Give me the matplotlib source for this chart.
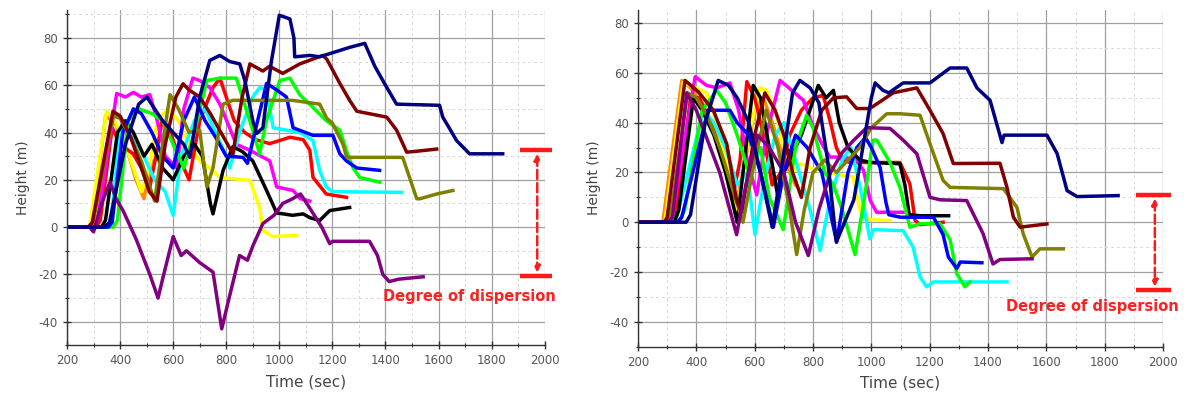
import numpy as np
import matplotlib.pyplot as plt
from matplotlib.ticker import MultipleLocator

plt.rcParams['axes.unicode_minus'] = False

# ---- left panel data (time in s, height in m) ----
lx_orange = [200, 280, 295, 345, 380, 420, 460, 490, 520]
ly_orange = [0, 0, 2, 47, 44, 35, 20, 12, 28]

lx_yellow = [200, 285, 349, 380, 420, 450, 480, 510, 540, 580, 620, 660, 700, 738, 776, 889, 926, 938, 976, 1066]
ly_yellow = [0, 0, 49, 45, 35, 25, 15, 25, 45, 50, 45, 35, 28, 25, 21, 19.8, 8.3, -1.5, -4, -3.5]

lx_red = [200, 310, 325, 370, 400, 449, 480, 512, 535, 558, 590, 620, 660, 700, 750, 776, 800, 830, 870, 910, 964, 1040, 1090, 1115, 1127, 1177, 1253]
ly_red = [0, 0, 3, 42, 35, 31, 25, 17, 30, 45, 40, 30, 20, 45, 59, 63, 55, 45, 40, 37, 35.3, 38, 37, 32.5, 21, 14, 12.6]

lx_magenta = [200, 300, 315, 387, 420, 450, 480, 512, 540, 570, 614, 640, 674, 700, 738, 776, 838, 889, 964, 990, 1052, 1080, 1115]
ly_magenta = [0, 0, 3, 56.5, 55, 57, 55, 56, 45, 30, 25, 50, 63, 62, 59, 52, 35, 32.5, 28, 17, 15.5, 12, 11]

lx_cyan = [200, 350, 365, 400, 420, 450, 490, 530, 570, 600, 630, 680, 720, 760, 800, 813, 850, 900, 926, 951, 977, 1077, 1127, 1152, 1177, 1200, 1461]
ly_cyan = [0, 0, 2, 41, 42, 38, 30, 20, 15, 5, 30, 45, 50, 40, 30, 25, 40, 55, 59, 58, 42, 40, 36.6, 24, 17, 15, 14.7]

lx_black = [200, 330, 345, 390, 420, 450, 490, 520, 560, 600, 640, 680, 710, 740, 750, 788, 825, 860, 900, 952, 990, 1050, 1090, 1115, 1152, 1190, 1265]
ly_black = [0, 0, 3, 40, 45, 40, 30, 35, 25, 20, 30, 35, 30, 10, 5.6, 24, 34, 32, 28, 15.5, 6, 5, 5.6, 4, 2.8, 7, 8.3]

lx_green = [200, 375, 390, 430, 470, 520, 560, 600, 640, 680, 727, 776, 838, 889, 926, 951, 1002, 1040, 1077, 1127, 1177, 1228, 1260, 1278, 1303, 1378]
ly_green = [0, 0, 3, 45, 50, 48, 45, 35, 25, 40, 62, 63, 63, 45, 31, 45, 62, 63, 56, 50.6, 45, 41, 30, 25, 21, 19]

lx_blue = [200, 355, 370, 410, 450, 480, 520, 560, 600, 640, 680, 720, 760, 800, 863, 880, 952, 990, 1027, 1052, 1127, 1202, 1228, 1253, 1292, 1378]
ly_blue = [0, 0, 2, 40, 50, 48, 40, 30, 25, 45, 55, 45, 38, 30, 29.5, 27, 60.8, 58, 55, 42, 38.8, 38.8, 31, 28, 25, 24]

lx_olive = [200, 285, 300, 373, 400, 440, 480, 530, 560, 588, 620, 660, 700, 727, 750, 788, 825, 915, 1050, 1152, 1179, 1200, 1240, 1254, 1465, 1518, 1530, 1593, 1654]
ly_olive = [0, 0, 3, 47, 46, 38, 28, 11, 35, 56, 50, 40, 41, 17, 25, 52, 53.6, 53.6, 53.6, 52, 46, 44, 35, 29.5, 29.5, 12, 12, 14, 15.5]

lx_maroon = [200, 280, 295, 373, 400, 440, 480, 510, 539, 570, 610, 637, 660, 700, 740, 780, 825, 860, 889, 938, 963, 1013, 1077, 1164, 1179, 1228, 1265, 1292, 1405, 1442, 1480, 1510, 1593]
ly_maroon = [0, 0, 2, 49, 47, 38, 25, 15, 11, 35, 55, 60.6, 58, 55, 48, 40, 31, 55, 69, 66, 68, 65, 69, 72.6, 71, 60.8, 53.6, 49, 46.5, 41, 31.7, 32, 33]

lx_purple = [200, 285, 300, 330, 362, 385, 411, 460, 512, 543, 560, 600, 630, 650, 700, 750, 783, 815, 850, 880, 900, 938, 980, 1013, 1050, 1080, 1115, 1160, 1190, 1200, 1340, 1370, 1390, 1414, 1450, 1542]
ly_purple = [0, 0, -2, 10, 19, 12, 7, -5, -20, -30, -22, -4, -12, -10, -15, -19, -43, -28, -12, -14, -8, 1.5, 5, 10, 12, 14, 8, 0, -7, -6, -6, -12, -20, -23, -22, -21]

lx_navy = [200, 340, 360, 420, 470, 501, 530, 560, 600, 640, 663, 700, 738, 776, 813, 851, 870, 900, 915, 938, 970, 1000, 1040, 1055, 1058, 1115, 1152, 1265, 1322, 1360, 1400, 1442, 1604, 1616, 1640, 1668, 1717, 1842]
ly_navy = [0, 0, 2, 35, 52, 55, 50, 45, 40, 35, 29.5, 55, 70.5, 72.6, 70, 69, 62, 45, 39.6, 42, 70, 89.6, 88, 80, 72, 72.6, 72, 76, 77.7, 68, 60, 52, 51.5, 46.5, 42, 36.6, 31, 31]

# ---- right panel data ----
rx_orange = [200, 285, 350, 380, 420, 470, 510, 538, 560, 600, 630, 660, 700, 740]
ry_orange = [0, 0, 57, 54, 48, 35, 20, 8, 20, 45, 50, 40, 25, 15]

rx_yellow = [200, 292, 355, 400, 435, 470, 510, 540, 580, 618, 641, 670, 700, 730, 756, 813, 938, 961, 996, 1064]
ry_yellow = [0, 0, 56, 54, 52, 40, 20, 5, 35, 54, 53, 45, 30, 20, 23.5, 20.8, 18.2, 4.7, 1, 0.7]

rx_red = [200, 315, 330, 380, 410, 450, 490, 525, 550, 573, 600, 630, 660, 690, 720, 760, 800, 835, 860, 880, 900, 927, 1098, 1132, 1150, 1167, 1246]
ry_red = [0, 0, 3, 50, 50, 40, 25, 10, 25, 56.5, 50, 35, 15, 20, 35, 45, 50, 51, 40, 30, 25, 24, 24, 15.4, 0.7, -1, 0]

rx_magenta = [200, 305, 318, 396, 435, 470, 515, 545, 575, 607, 640, 687, 733, 767, 801, 836, 858, 904, 950, 973, 996, 1018, 1110]
ry_magenta = [0, 0, 3, 58.5, 55, 54, 56, 45, 25, 11, 35, 57, 52.4, 49, 38.3, 30.3, 26.2, 26.2, 24.9, 20.8, 8.8, 4, 4]

rx_cyan = [200, 320, 335, 424, 460, 500, 540, 575, 601, 630, 670, 700, 740, 790, 824, 860, 900, 930, 960, 995, 1007, 1109, 1143, 1167, 1190, 1213, 1465]
ry_cyan = [0, 0, 3, 45, 40, 30, 15, 20, -5, 15, 35, 40, 25, 5, -11.4, 10, 25, 30, 15, -6.7, -3, -3.4, -10, -22, -26, -24, -24]

rx_black = [200, 325, 340, 390, 420, 460, 500, 540, 570, 595, 620, 650, 680, 700, 760, 818, 845, 870, 890, 920, 960, 1000, 1098, 1115, 1130, 1167, 1265]
ry_black = [0, 0, 5, 50, 45, 35, 20, 0, 30, 55, 50, 30, 10, 20, 35, 55, 50, 53, 40, 30, 25, 24, 23.5, 15, 3, 2.6, 2.6]

rx_green = [200, 340, 360, 420, 470, 500, 540, 580, 620, 650, 698, 740, 778, 800, 840, 870, 900, 944, 970, 1006, 1019, 1064, 1098, 1132, 1167, 1235, 1270, 1293, 1321, 1338]
ry_green = [0, 0, 5, 45, 53, 48, 35, 20, 30, 10, -3, 30, 43, 38, 20, 15, 5, -13, 5, 33, 33, 24, 14, -2, -0.6, -0.6, -7, -20.7, -26, -24]

rx_blue = [200, 335, 350, 440, 493, 515, 540, 580, 620, 664, 700, 740, 780, 830, 881, 920, 950, 980, 1000, 1030, 1050, 1060, 1100, 1213, 1246, 1264, 1293, 1305, 1379]
ry_blue = [0, 0, 2, 45, 45, 45, 40, 35, 20, -2, 20, 35, 30, 20, -8, 20, 30, 34, 30, 22, 8, 3, 2, 2, -5, -14, -18.6, -16, -16.3]

rx_olive = [200, 300, 312, 370, 400, 440, 480, 520, 560, 600, 640, 680, 720, 744, 770, 800, 840, 880, 920, 960, 1000, 1053, 1098, 1167, 1201, 1246, 1270, 1453, 1499, 1521, 1551, 1578, 1658]
ry_olive = [0, 0, 3, 52, 50, 42, 30, 15, 0, 25, 45, 30, 5, -13, 5, 20, 25, 20, 25, 30, 38, 43.6, 43.6, 43, 31.5, 16.8, 14, 13.5, 6, -4.8, -14, -10.7, -10.7]

rx_maroon = [200, 290, 300, 361, 407, 458, 504, 538, 555, 600, 635, 670, 700, 730, 760, 790, 830, 870, 915, 950, 995, 1075, 1156, 1201, 1246, 1281, 1441, 1465, 1487, 1510, 1602]
ry_maroon = [0, 0, 2, 57, 52.4, 45, 31.6, 8.8, 4, 35, 52, 45, 35, 20, 10, 30, 45, 50, 50.4, 45.7, 45.7, 52, 54, 45, 35.6, 23.6, 23.7, 14, 2, -2, -0.7]

rx_purple = [200, 305, 318, 367, 400, 435, 480, 538, 570, 610, 650, 700, 740, 784, 820, 860, 900, 940, 984, 1064, 1109, 1156, 1201, 1236, 1327, 1383, 1417, 1441, 1551]
ry_purple = [0, 0, 2, 52, 45, 34, 20, -5, 15, 35, 30, 20, 0, -13.4, 5, 20, 28, 33, 38, 37.7, 33, 27.5, 10, 9, 8.7, -4.6, -16.8, -15, -14.7]

rx_navy = [200, 365, 380, 430, 475, 510, 540, 580, 620, 660, 690, 730, 755, 790, 820, 850, 880, 940, 1000, 1013, 1040, 1060, 1109, 1201, 1270, 1327, 1362, 1407, 1448, 1455, 1602, 1637, 1671, 1705, 1846]
ry_navy = [0, 0, 3, 40, 57, 55, 50, 40, 20, -2, 20, 52, 57, 54, 48, 25, -8, 9, 50, 56, 53, 52, 56, 56, 62, 62, 54, 49, 32, 35, 35, 27.6, 12.7, 10.3, 10.7]

# dispersion markers: (top, bottom) height for each panel
left_spread = (32.5, -20.7)
right_spread = (11, -27.4)

colors = {
    'orange': '#ff8c00', 'yellow': '#ffff00', 'red': '#ff0000', 'magenta': '#ff00ff',
    'cyan': '#00ffff', 'black': '#000000', 'green': '#00ff00', 'blue': '#0000ff',
    'olive': '#808000', 'maroon': '#800000', 'purple': '#800080', 'navy': '#000080',
}

left_series = [
    ('orange', lx_orange, ly_orange), ('yellow', lx_yellow, ly_yellow), ('red', lx_red, ly_red),
    ('magenta', lx_magenta, ly_magenta), ('cyan', lx_cyan, ly_cyan), ('black', lx_black, ly_black),
    ('green', lx_green, ly_green), ('blue', lx_blue, ly_blue), ('olive', lx_olive, ly_olive),
    ('maroon', lx_maroon, ly_maroon), ('purple', lx_purple, ly_purple), ('navy', lx_navy, ly_navy),
]
right_series = [
    ('orange', rx_orange, ry_orange), ('yellow', rx_yellow, ry_yellow), ('red', rx_red, ry_red),
    ('magenta', rx_magenta, ry_magenta), ('cyan', rx_cyan, ry_cyan), ('black', rx_black, ry_black),
    ('green', rx_green, ry_green), ('blue', rx_blue, ry_blue), ('olive', rx_olive, ry_olive),
    ('maroon', rx_maroon, ry_maroon), ('purple', rx_purple, ry_purple), ('navy', rx_navy, ry_navy),
]

fig = plt.figure(figsize=(11.91, 3.97), dpi=100)
ax1 = fig.add_axes([0.0563, 0.130, 0.401, 0.846])
ax2 = fig.add_axes([0.5357, 0.127, 0.4408, 0.849])


def style(ax, ymax):
    ax.set_xlim(200, 2000)
    ax.set_ylim(-50, ymax)
    ax.xaxis.set_major_locator(MultipleLocator(200))
    ax.xaxis.set_minor_locator(MultipleLocator(100))
    ax.yaxis.set_major_locator(MultipleLocator(20))
    ax.yaxis.set_minor_locator(MultipleLocator(10))
    ax.grid(which='major', color='#a0a0a0', lw=0.9)
    ax.grid(which='minor', color='#dadada', lw=0.7, ls=(0, (3, 3)))
    ax.set_axisbelow(True)
    for s in ('top', 'right'):
        ax.spines[s].set_visible(False)
    for s in ('left', 'bottom'):
        ax.spines[s].set_color('#333333')
        ax.spines[s].set_linewidth(1.0)
    ax.tick_params(which='major', direction='inout', length=6, width=1, colors='#333333',
                   labelsize=8.5, labelcolor='#555555')
    ax.tick_params(which='minor', direction='inout', length=3.5, width=0.8, colors='#333333')
    ax.set_xlabel('Time (sec)', fontsize=11, color='#444444', labelpad=5)
    ax.set_ylabel('Height (m)', fontsize=10, color='#444444', labelpad=6)


def spread(ax, top, bottom, tx, ty):
    for y in (top, bottom):
        ax.plot([1908, 2028], [y, y], color='#ff1a1a', lw=3.2, clip_on=False, solid_capstyle='butt')
    ax.annotate('', xy=(1972, bottom + 1.5), xytext=(1972, top - 1.5),
                arrowprops=dict(arrowstyle='<|-|>', color='#ff1a1a', lw=1.8, ls='--',
                                mutation_scale=9, shrinkA=0, shrinkB=0),
                annotation_clip=False)
    ax.text(tx, ty, 'Degree of dispersion', color='#ff2020', fontsize=10.5,
            fontweight='bold', ha='center', va='center', clip_on=False)


for ax, series, ymax in ((ax1, left_series, 92), (ax2, right_series, 85.5)):
    style(ax, ymax)
    for name, xs, ys in series:
        ax.plot(xs, ys, color=colors[name], lw=2.5, solid_joinstyle='round')

spread(ax1, *left_spread, 1717, -29.5)
spread(ax2, *right_spread, 1758, -34)

fig.savefig('out.png', dpi=100)
